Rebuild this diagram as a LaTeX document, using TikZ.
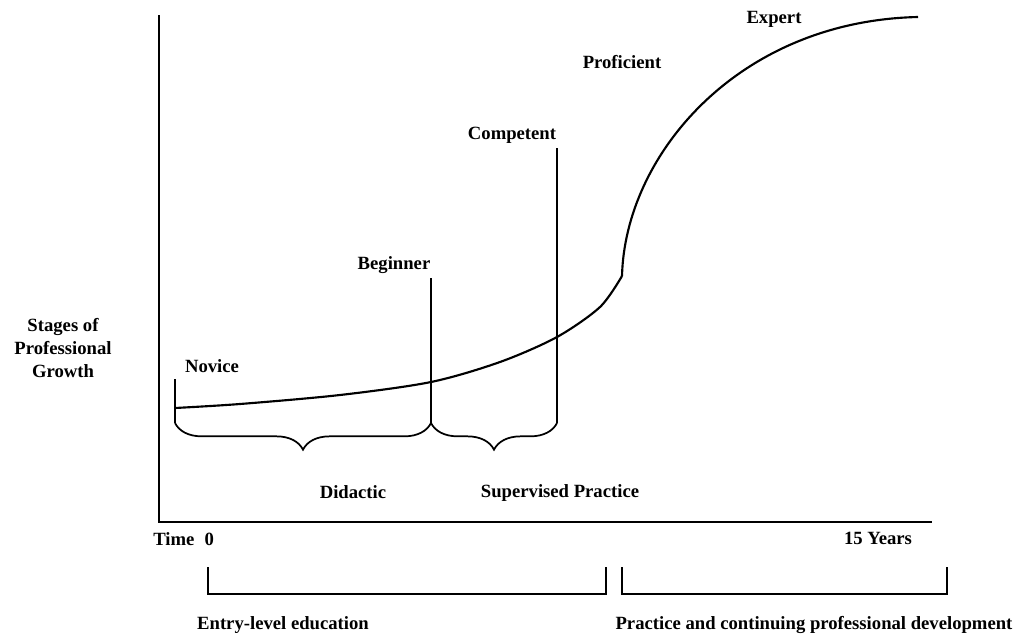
\documentclass[tikz,border=0pt]{standalone}
\usepackage{fontspec}
\setmainfont{Liberation Serif}
\usetikzlibrary{decorations.pathreplacing}

\begin{document}
\begin{tikzpicture}[x=0.75pt, y=-0.75pt,
    lbl/.style={font=\bfseries\fontsize{14}{17.5}\selectfont, inner sep=0pt},
    axis/.style={line width=2pt},
    stageline/.style={line width=1.1pt},
    growth/.style={line width=1.6pt, line join=round},
    phase/.style={line width=1.3pt, decorate, decoration={brace, mirror, amplitude=20pt}},
    period/.style={line width=2pt}]
    \useasboundingbox (0,0) rectangle (1019,639);

    % Axes
    \coordinate (origin) at (159,522);
    \draw[axis] (159,15) -- (origin) -- (932,522);
    \node[lbl, align=center] (stages) at (63,348) {Stages of\\Professional\\Growth};
    \node[lbl, anchor=west] (time0) at (153,539) {Time\hspace{0.55em}0};
    \node[lbl] (years) at (878,538) {15 Years};

    % Stage markers
    \coordinate (novice top) at (175,379);
    \coordinate (beginner top) at (431,278);
    \coordinate (competent top) at (557,148);
    \coordinate (novice foot) at (175,423);
    \coordinate (beginner foot) at (431,423);
    \coordinate (competent foot) at (557,423);
    \draw[stageline] (novice top) -- (novice foot);
    \draw[stageline] (beginner top) -- (beginner foot);
    \draw[stageline] (competent top) -- (competent foot);

    \node[lbl] (novice) at (212,366) {Novice};
    \node[lbl] (beginner) at (394,265) {Beginner};
    \node[lbl] (competent) at (512,135) {Competent};
    \node[lbl] (proficient) at (622,62) {Proficient};
    \node[lbl] (expert) at (774,19) {Expert};

    % Growth curve
    \coordinate (kink) at (622,276);
    \draw[growth] plot[smooth] coordinates {(175,408) (240,404) (340,395) (431,382) (500,362) (557,337) (600,307) (kink)};
    \draw[growth] (kink) .. controls (625,155) and (738,21) .. (918,17);

    % Phases of training
    \draw[phase] (novice foot) -- (beginner foot);
    \draw[phase] (beginner foot) -- (competent foot);
    \node[lbl] (didactic) at (353,492) {Didactic};
    \node[lbl] (supervised) at (560,493) {Supervised Practice};

    % Career periods
    \draw[period] (208,567) -- (208,594) -- (606,594) -- (606,567);
    \draw[period] (622,567) -- (622,594) -- (947,594) -- (947,567);
    \node[lbl] (entry) at (283,625) {Entry-level education};
    \node[lbl] (practice) at (814,625) {Practice and continuing professional development};
\end{tikzpicture}
\end{document}
